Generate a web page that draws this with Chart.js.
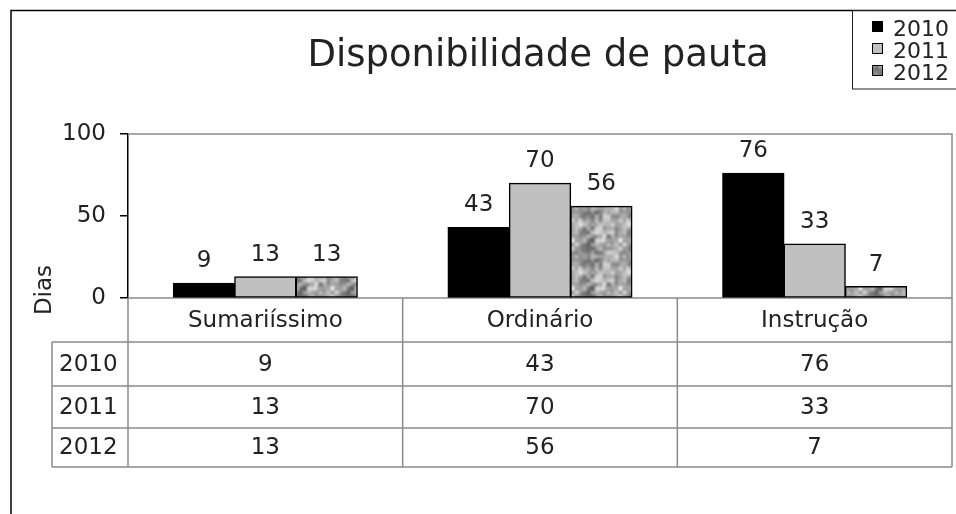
<!DOCTYPE html>
<html>
<head>
<meta charset="utf-8">
<script src="https://cdn.jsdelivr.net/npm/chart.js@4.4.0/dist/chart.umd.min.js"></script>
<style>
  html, body { margin: 0; padding: 0; background: #fff; }
  canvas { display: block; }
</style>
</head>
<body>
<canvas id="pautaChart" width="956" height="514"></canvas>
<script>
// chart values
const categories = ['Sumariíssimo', 'Ordinário', 'Instrução'];
const seriesLabels = ['2010', '2011', '2012'];
const values2010 = [9, 43, 76];
const values2011 = [13, 70, 33];
const values2012 = [13, 56, 7];
const yTicks = [0, 50, 100];

const FONT = '"DejaVu Sans", Verdana, sans-serif';
const TEXT = '#222';
const LINE_GRAY = '#8a8a8a';

// mottled gray texture for the 2012 series (deterministic hash noise)
function hash(x, y) {
    let h = Math.imul(x, 374761393) + Math.imul(y, 668265263);
    h = Math.imul(h ^ (h >>> 13), 1274126177);
    return ((h ^ (h >>> 16)) >>> 0) / 4294967295;
}
function valueNoise(x, y, cell, size, seed) {
    const n = size / cell;
    const smooth = t => t * t * (3 - 2 * t);
    const gx = Math.floor(x / cell), gy = Math.floor(y / cell);
    const fx = smooth((x % cell) / cell), fy = smooth((y % cell) / cell);
    const h = (i, j) => hash((i % n) + seed, (j % n) + seed * 3);
    const a = h(gx, gy), b = h(gx + 1, gy), d = h(gx, gy + 1), e = h(gx + 1, gy + 1);
    return (a * (1 - fx) + b * fx) * (1 - fy) + (d * (1 - fx) + e * fx) * fy;
}
function texturePattern() {
    const size = 48;
    const c = document.createElement('canvas');
    c.width = size; c.height = size;
    const g = c.getContext('2d');
    const img = g.createImageData(size, size);
    for (let y = 0; y < size; y++) {
        for (let x = 0; x < size; x++) {
            const v = 0.55 * valueNoise(x, y, 8, size, 11) + 0.45 * valueNoise(x, y, 4, size, 29);
            const k = Math.max(90, Math.min(225, Math.round(75 + v * 175)));
            const i = (y * size + x) * 4;
            img.data[i] = img.data[i + 1] = img.data[i + 2] = k;
            img.data[i + 3] = 255;
        }
    }
    g.putImageData(img, 0, 0);
    return document.getElementById('pautaChart').getContext('2d').createPattern(c, 'repeat');
}
const pattern2012 = texturePattern();
const seriesFills = ['#000000', '#c0c0c0', pattern2012];

// plot frame, drawn under the bars
const plotFrame = {
    id: 'plotFrame',
    beforeDatasetsDraw(chart) {
        const { ctx, chartArea: a } = chart;
        ctx.save();
        ctx.strokeStyle = LINE_GRAY;
        ctx.lineWidth = 1.5;
        ctx.beginPath();
        ctx.moveTo(a.left, a.top); ctx.lineTo(a.right, a.top);
        ctx.lineTo(a.right, a.bottom); ctx.lineTo(a.left, a.bottom);
        ctx.stroke();
        ctx.restore();
    }
};

// value labels above the bars
const barLabels = {
    id: 'barLabels',
    afterDatasetsDraw(chart) {
        const ctx = chart.ctx;
        ctx.save();
        ctx.font = '23px ' + FONT;
        ctx.fillStyle = TEXT;
        ctx.textAlign = 'center';
        ctx.textBaseline = 'alphabetic';
        chart.data.datasets.forEach((ds, i) => {
            chart.getDatasetMeta(i).data.forEach((bar, j) => {
                ctx.fillText(String(ds.data[j]), bar.x, bar.y - 16);
            });
        });
        ctx.restore();
    }
};

// title, legend, axis title, data table and outer frame
const decorations = {
    id: 'decorations',
    afterDraw(chart) {
        const { ctx, chartArea: a } = chart;
        const xs = chart.scales.x;
        const colW = (a.right - a.left) / categories.length;
        ctx.save();

        // outer frame
        ctx.strokeStyle = '#000';
        ctx.lineWidth = 1.5;
        ctx.beginPath();
        ctx.moveTo(11, 514); ctx.lineTo(11, 10.5); ctx.lineTo(956, 10.5);
        ctx.stroke();

        // title
        ctx.fillStyle = TEXT;
        ctx.font = '37px ' + FONT;
        ctx.textAlign = 'center';
        ctx.textBaseline = 'alphabetic';
        ctx.fillText('Disponibilidade de pauta', 538, 66);

        // legend
        ctx.lineWidth = 1;
        ctx.strokeStyle = '#222';
        ctx.strokeRect(852.5, 10.5, 110, 78.5);
        ctx.font = '22px ' + FONT;
        ctx.textAlign = 'left';
        chart.data.datasets.forEach((ds, i) => {
            const y = 21 + i * 22;
            ctx.fillStyle = ds.backgroundColor;
            ctx.fillRect(872, y, 11, 11);
            ctx.strokeStyle = '#000';
            ctx.strokeRect(872.5, y + 0.5, 10, 10);
            ctx.fillStyle = TEXT;
            ctx.fillText(ds.label, 893, y + 15);
        });

        // axis title
        ctx.save();
        ctx.translate(51, 290);
        ctx.rotate(-Math.PI / 2);
        ctx.textAlign = 'center';
        ctx.font = '23px ' + FONT;
        ctx.fillText('Dias', 0, 0);
        ctx.restore();

        // data table
        const rows = [a.bottom, 342, 386, 428, 467];
        const headX = 52;
        ctx.strokeStyle = LINE_GRAY;
        ctx.lineWidth = 1.5;
        ctx.beginPath();
        for (let r = 1; r < rows.length; r++) {
            ctx.moveTo(headX, rows[r]); ctx.lineTo(a.right, rows[r]);
        }
        ctx.moveTo(headX, rows[1]); ctx.lineTo(headX, rows[4]);
        for (let c = 0; c <= categories.length; c++) {
            const x = a.left + c * colW;
            ctx.moveTo(x, a.bottom); ctx.lineTo(x, rows[4]);
        }
        ctx.stroke();

        ctx.font = '23px ' + FONT;
        ctx.fillStyle = TEXT;
        ctx.textBaseline = 'middle';
        categories.forEach((cat, j) => {
            ctx.textAlign = 'center';
            ctx.fillText(cat, xs.getPixelForTick(j), (rows[0] + rows[1]) / 2 + 1);
        });
        chart.data.datasets.forEach((ds, i) => {
            const cy = (rows[i + 1] + rows[i + 2]) / 2 + 1;
            ctx.textAlign = 'left';
            ctx.fillText(ds.label, 59, cy);
            ds.data.forEach((v, j) => {
                ctx.textAlign = 'center';
                ctx.fillText(String(v), xs.getPixelForTick(j), cy);
            });
        });
        ctx.restore();
    }
};

const seriesValues = [values2010, values2011, values2012];

new Chart(document.getElementById('pautaChart'), {
    type: 'bar',
    data: {
        labels: categories,
        datasets: seriesLabels.map((label, i) => ({
            label: label,
            data: seriesValues[i],
            backgroundColor: seriesFills[i],
            borderColor: '#000',
            borderWidth: 1.5,
            borderSkipped: false,
            inflateAmount: 0.5,
            barPercentage: 1.0,
            categoryPercentage: 0.67
        }))
    },
    options: {
        responsive: false,
        animation: false,
        devicePixelRatio: 1,
        layout: { padding: { top: 134, right: 4, bottom: 216, left: 0 } },
        plugins: {
            legend: { display: false },
            title: { display: false },
            tooltip: { enabled: false }
        },
        scales: {
            x: { display: false },
            y: {
                min: 0,
                max: 100,
                afterBuildTicks(scale) {
                    scale.ticks = yTicks.map(v => ({ value: v }));
                },
                afterFit(scale) { scale.width = 128; },
                grid: {
                    drawOnChartArea: false,
                    drawTicks: true,
                    tickLength: 8,
                    color: '#000',
                    lineWidth: 1.5
                },
                border: { display: true, color: '#000', width: 1.5 },
                ticks: {
                    padding: 14,
                    color: TEXT,
                    font: { family: FONT, size: 23 }
                }
            }
        }
    },
    plugins: [plotFrame, barLabels, decorations]
});
</script>
</body>
</html>
